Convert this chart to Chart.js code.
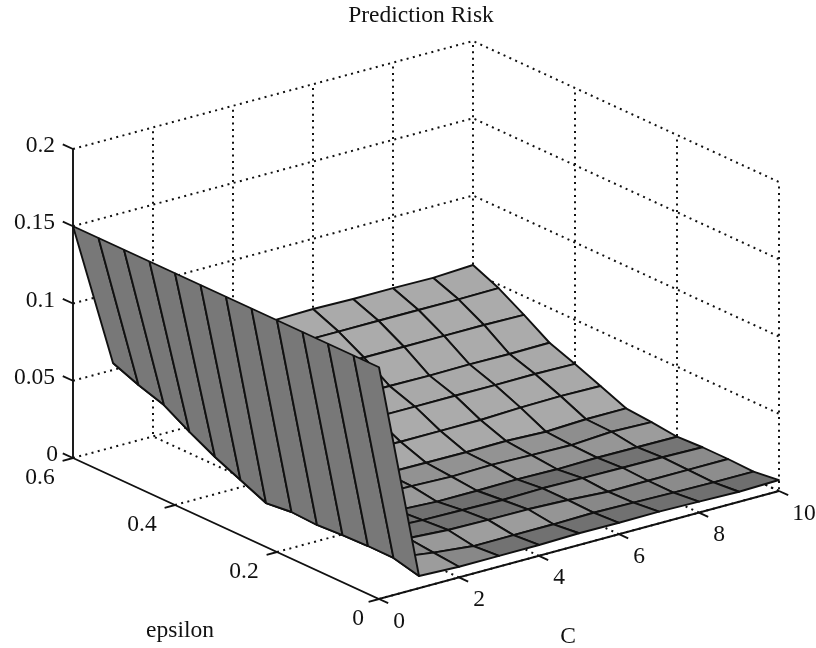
<!DOCTYPE html>
<html><head><meta charset="utf-8">
<style>html,body{margin:0;padding:0;background:#fff}canvas{display:block}</style>
<script src="https://cdn.jsdelivr.net/npm/chart.js@4"></script>
</head><body><canvas id="c" width="816" height="648"></canvas>
<script>
const titleText = "Prediction Risk";
const xName = "C", yName = "epsilon";
const cValues = [0,1,2,3,4,5,6,7,8,9,10];
const epsValues = [0.6,0.55,0.5,0.45,0.4,0.35,0.3,0.25,0.2,0.15,0.1,0.05,0];
const cTicks = [0,2,4,6,8,10];
const epsTicks = [0,0.2,0.4,0.6];
const zTicks = [0,0.05,0.1,0.15,0.2];
const zEps060 = [.15,.0545,.054,.054,.054,.054,.0545,.054,.054,.0537,.055];
const zEps055 = [.15,.0479,.0475,.0475,.0475,.0475,.0475,.0475,.0475,.0474,.0477];
const zEps050 = [.15,.0425,.0385,.0384,.0384,.0383,.0383,.0383,.0383,.0384,.0379];
const zEps045 = [.15,.0327,.028,.0275,.0275,.0275,.0275,.0272,.0275,.0272,.0275];
const zEps040 = [.15,.0241,.022,.0218,.0218,.0218,.0217,.0218,.0217,.0219,.0214];
const zEps035 = [.15,.0168,.0145,.014,.014,.0136,.0136,.0137,.0147,.0152,.0147];
const zEps030 = [.15,.0095,.0085,.008,.0078,.0076,.0074,.0077,.0067,.0078,.0079];
const zEps025 = [.15,.0113,.0085,.0075,.0071,.0062,.0068,.0062,.0057,.0073,.0066];
const zEps020 = [.15,.0105,.0075,.006,.0046,.0047,.0051,.0046,.0051,.0049,.0047];
const zEps015 = [.15,.0116,.0085,.0073,.0068,.0063,.0069,.0065,.0062,.006,.0055];
const zEps010 = [.15,.0121,.0101,.0085,.008,.0079,.0069,.0053,.0054,.0054,.0055];
const zEps005 = [.15,.012,.0084,.0057,.0058,.0058,.0063,.0058,.0053,.005,.0049];
const zEps000 = [.15,.0079,.0069,.0069,.007,.0076,.0074,.0076,.0071,.0065,.0071];
const zRows = [zEps060,zEps055,zEps050,zEps045,zEps040,zEps035,zEps030,zEps025,zEps020,zEps015,zEps010,zEps005,zEps000];

// fixed 3-D view of the box
function project(c, e, z){
  return { x: 379 + 40*c - 510*e, y: 599 - 10.8*c - 235*e - 1545*z };
}
function cellShade(i,j){
  const dC = ((zRows[i][j+1]+zRows[i+1][j+1])-(zRows[i][j]+zRows[i+1][j]))/2;
  const dE = ((zRows[i][j]+zRows[i][j+1])-(zRows[i+1][j]+zRows[i+1][j+1]))/2/0.05;
  const a = dC/0.2*10, b = dE/0.2*0.6;
  const n = Math.sqrt(1+a*a+b*b);
  const nC = Math.abs(a)/n, nE = b/n;
  const lit = nE>=0 ? 136+36*Math.tanh(nE/0.2) : 136-26*Math.tanh(-nE/0.06);
  const v = Math.round(120*nC + (1-nC)*lit);
  return `rgb(${v},${v},${v})`;
}
const black = "#111";
const datasets = [];
function addLine(pts, opts){
  datasets.push(Object.assign({data:pts,showLine:true,pointRadius:0,fill:false,borderColor:black,borderWidth:1.9,tension:0,clip:false},opts||{}));
}
// axes and tick marks (on top)
const axisLine = [project(0,.6,0),project(0,0,0),project(10,0,0)];
addLine(axisLine);
addLine([project(0,.6,0),project(0,.6,.2)]);
zTicks.forEach(z=>addLine([project(0,.6,z),project(0,.62,z)]));
epsTicks.forEach(e=>addLine([project(0,e,0),project(-.26,e,0)]));
cTicks.forEach(c=>addLine([project(c,0,0),project(c,-.018,0)]));
// surface, front to back (first dataset is painted last)
for(let i=zRows.length-2;i>=0;i--){
  for(let j=0;j<cValues.length-1;j++){
    const p=(a,b)=>project(cValues[b],epsValues[a],zRows[a][b]);
    addLine([p(i,j),p(i,j+1),p(i+1,j+1),p(i+1,j),p(i,j)],
      {fill:'shape',backgroundColor:cellShade(i,j),borderJoinStyle:'round'});
  }
}
// dotted box grid, behind everything
const dotted={borderDash:[2,4.4],borderWidth:2,borderColor:"#111"};
zTicks.forEach(z=>{
  addLine([project(0,.6,z),project(10,.6,z),project(10,0,z)],dotted);
});
cTicks.filter(c=>c>0).forEach(c=>{
  addLine([project(c,0,0),project(c,.6,0),project(c,.6,.2)],dotted);
});
epsTicks.filter(e=>e<.6).forEach(e=>{
  addLine([project(0,e,0),project(10,e,0),project(10,e,.2)],dotted);
});

const labelPlugin={id:'labels3d',afterDatasetsDraw(chart){
  const ctx=chart.ctx, xs=chart.scales.x, ys=chart.scales.y;
  const put=(t,px,py,al)=>{ctx.textAlign=al||'center';ctx.fillText(t,px,py);};
  const at=(p)=>({x:xs.getPixelForValue(p.x),y:ys.getPixelForValue(p.y)});
  ctx.save();
  ctx.fillStyle="#111";ctx.textBaseline='middle';ctx.font='23.5px "Liberation Serif"';
  put(titleText,421,16);
  zTicks.forEach(z=>{const p=at(project(0,.6,z));put(String(z),z===0?58:55,p.y-3,'right');});
  epsTicks.forEach(e=>{const p=at(project(0,e,0));put(String(e),p.x+(e===0?-21:-33),p.y+20);});
  cTicks.forEach(c=>{const p=at(project(c,0,0));put(String(c),p.x+(c===10?25:20),p.y+22.5);});
  put(yName,180,631);
  put(xName,568,637);
  ctx.restore();
}};

new Chart(document.getElementById('c'),{
  type:'scatter',
  data:{datasets},
  plugins:[labelPlugin],
  options:{
    responsive:false,animation:false,events:[],
    layout:{padding:0},
    scales:{
      x:{type:'linear',min:0,max:816,display:false},
      y:{type:'linear',min:0,max:648,reverse:true,display:false}
    },
    plugins:{legend:{display:false},tooltip:{enabled:false},title:{display:false}}
  }
});
</script></body></html>
